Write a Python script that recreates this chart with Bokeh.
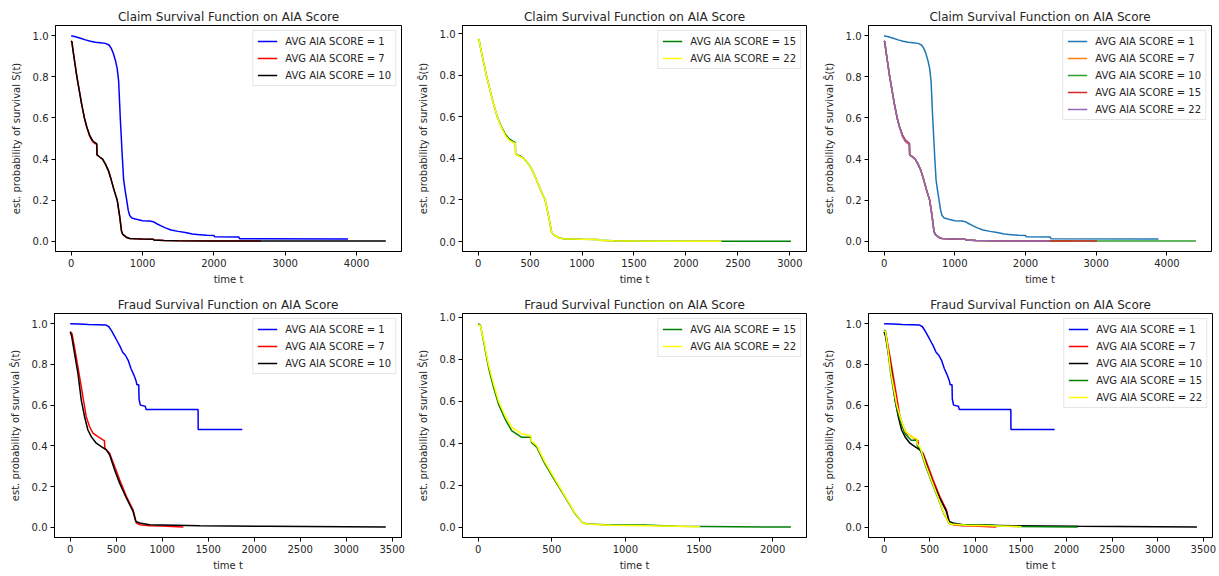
from bokeh.plotting import figure
from bokeh.layouts import row, column
from bokeh.models import Range1d, FixedTicker, PrintfTickFormatter
from bokeh.embed import file_html
from bokeh.resources import INLINE

# ---------------- data ----------------
# Claim survival curves
claim_t_1 = [0, 60, 130, 200, 270, 340, 410, 480, 530, 560, 590, 620, 645, 665, 688, 703, 718, 735, 755, 778,
             800, 820, 850, 900, 1000, 1100, 1150, 1200, 1260, 1320, 1400, 1500, 1600, 1700, 1800, 1900, 2000,
             2010, 2350, 2360, 3880]
claim_s_1 = [1.0, 0.995, 0.988, 0.98, 0.973, 0.968, 0.966, 0.963, 0.955, 0.94, 0.915, 0.88, 0.84, 0.78, 0.60,
             0.50, 0.40, 0.30, 0.25, 0.20, 0.15, 0.125, 0.113, 0.108, 0.10, 0.098, 0.095, 0.085, 0.075, 0.065,
             0.055, 0.048, 0.042, 0.035, 0.032, 0.029, 0.028, 0.022, 0.02, 0.012, 0.011]

claim_t_7 = [0, 10, 25, 50, 80, 110, 145, 185, 220, 260, 300, 340, 358, 362, 400, 440, 480, 520, 560, 600,
             645, 680, 705, 720, 740, 780, 820, 900, 1000, 1150, 1160, 1300, 1500, 2000, 2660]
claim_s_7 = [0.975, 0.97, 0.93, 0.87, 0.80, 0.74, 0.67, 0.60, 0.553, 0.51, 0.485, 0.474, 0.472, 0.42, 0.41,
             0.40, 0.375, 0.345, 0.30, 0.25, 0.20, 0.12, 0.05, 0.035, 0.028, 0.018, 0.013, 0.012, 0.011, 0.01,
             0.006, 0.004, 0.002, 0.001, 0.001]

claim_t_10 = [0, 10, 25, 50, 80, 110, 145, 185, 220, 260, 300, 340, 358, 362, 400, 440, 480, 520, 560, 600,
              645, 680, 705, 720, 740, 780, 820, 900, 1000, 1150, 1160, 1300, 1500, 2000, 2660, 3500, 4410]
claim_s_10 = [0.975, 0.97, 0.93, 0.87, 0.80, 0.74, 0.67, 0.60, 0.555, 0.515, 0.49, 0.478, 0.475, 0.42, 0.41,
              0.40, 0.375, 0.345, 0.30, 0.25, 0.20, 0.12, 0.05, 0.035, 0.028, 0.018, 0.013, 0.012, 0.011, 0.01,
              0.006, 0.004, 0.002, 0.001, 0.001, 0.001, 0.001]

claim_t_15 = [0, 10, 25, 50, 80, 110, 145, 185, 220, 260, 300, 340, 358, 362, 400, 440, 480, 520, 560, 600,
              645, 680, 705, 720, 740, 780, 820, 900, 1000, 1150, 1160, 1300, 1500, 2000, 2340, 3010]
claim_s_15 = [0.975, 0.97, 0.93, 0.87, 0.80, 0.74, 0.67, 0.60, 0.557, 0.518, 0.494, 0.481, 0.477, 0.42, 0.413,
              0.40, 0.376, 0.345, 0.30, 0.25, 0.20, 0.12, 0.05, 0.035, 0.028, 0.018, 0.013, 0.012, 0.011, 0.01,
              0.006, 0.004, 0.002, 0.001, 0.001, 0.001]

claim_t_22 = [0, 10, 25, 50, 80, 110, 145, 185, 220, 260, 300, 340, 358, 362, 400, 440, 480, 520, 560, 600,
              645, 680, 705, 720, 740, 780, 820, 900, 1000, 1150, 1160, 1300, 1500, 2000, 2340]
claim_s_22 = [0.975, 0.97, 0.93, 0.87, 0.80, 0.74, 0.67, 0.60, 0.553, 0.512, 0.487, 0.476, 0.473, 0.42, 0.41,
              0.40, 0.375, 0.345, 0.30, 0.25, 0.20, 0.12, 0.05, 0.035, 0.028, 0.018, 0.013, 0.012, 0.011, 0.01,
              0.006, 0.004, 0.002, 0.001, 0.001]

# Fraud survival curves
fraud_t_1 = [0, 100, 200, 300, 390, 420, 450, 480, 510, 540, 570, 600, 630, 660, 690, 715, 725, 745, 748,
             762, 815, 825, 1390, 1391, 1870]
fraud_s_1 = [1.0, 0.998, 0.996, 0.995, 0.993, 0.985, 0.965, 0.94, 0.915, 0.89, 0.86, 0.845, 0.82, 0.78, 0.75,
             0.72, 0.70, 0.70, 0.63, 0.60, 0.595, 0.578, 0.578, 0.48, 0.48]

fraud_t_7 = [0, 20, 65, 102, 138, 174, 211, 247, 301, 356, 372, 376, 428, 483, 537, 610, 683, 719, 755, 864,
             1000, 1100, 1230]
fraud_s_7 = [0.96, 0.95, 0.837, 0.739, 0.641, 0.543, 0.494, 0.462, 0.445, 0.429, 0.425, 0.39, 0.364, 0.299,
             0.233, 0.152, 0.086, 0.021, 0.013, 0.008, 0.006, 0.004, 0.001]

fraud_t_10 = [0, 15, 47, 84, 120, 156, 192, 229, 283, 338, 392, 428, 483, 537, 610, 683, 712, 755, 864, 1409,
              2135, 3430]
fraud_s_10 = [0.96, 0.94, 0.853, 0.755, 0.625, 0.543, 0.478, 0.445, 0.413, 0.396, 0.38, 0.356, 0.282, 0.217,
              0.144, 0.078, 0.029, 0.021, 0.013, 0.008, 0.005, 0.002]

fraud_t_15 = [0, 16, 38, 72, 106, 139, 184, 229, 297, 360, 362, 398, 454, 521, 589, 656, 712, 746, 903, 1128,
              1353, 2124]
fraud_s_15 = [0.969, 0.961, 0.882, 0.757, 0.663, 0.585, 0.514, 0.459, 0.428, 0.428, 0.404, 0.381, 0.302, 0.224,
              0.146, 0.067, 0.02, 0.016, 0.011, 0.011, 0.005, 0.001]

fraud_t_22 = [0, 16, 38, 72, 106, 139, 184, 229, 297, 360, 362, 398, 454, 521, 589, 656, 712, 746, 903, 1128,
              1353, 1506]
fraud_s_22 = [0.965, 0.958, 0.89, 0.77, 0.68, 0.60, 0.53, 0.475, 0.445, 0.435, 0.41, 0.39, 0.31, 0.23, 0.15,
              0.07, 0.02, 0.015, 0.01, 0.008, 0.005, 0.003]

labels = {1: "AVG AIA SCORE = 1", 7: "AVG AIA SCORE = 7", 10: "AVG AIA SCORE = 10",
          15: "AVG AIA SCORE = 15", 22: "AVG AIA SCORE = 22"}

claim_title = "Claim Survival Function on AIA Score"
fraud_title = "Fraud Survival Function on AIA Score"
x_label = "time t"
y_label_plain = "est. probability of survival S(t)"
y_label_hat = "est. probability of survival Ŝ(t)"
y_ticks = [0.0, 0.2, 0.4, 0.6, 0.8, 1.0]

claim_series = {1: (claim_t_1, claim_s_1), 7: (claim_t_7, claim_s_7), 10: (claim_t_10, claim_s_10),
                15: (claim_t_15, claim_s_15), 22: (claim_t_22, claim_s_22)}
fraud_series = {1: (fraud_t_1, fraud_s_1), 7: (fraud_t_7, fraud_s_7), 10: (fraud_t_10, fraud_s_10),
                15: (fraud_t_15, fraud_s_15), 22: (fraud_t_22, fraud_s_22)}

BASIC = {1: "#0000ff", 7: "#ff0000", 10: "#000000", 15: "#008000", 22: "#ffff00"}
TAB10 = {1: "#1f77b4", 7: "#ff7f0e", 10: "#2ca02c", 15: "#d62728", 22: "#9467bd"}

FONT = "DejaVu Sans"
TXT = "#262626"


def make_panel(title, series, keys, colors, xr, yr, xticks, ylabel, w, h, bl, br, bt, bb):
    p = figure(width=w, height=h, x_range=Range1d(*xr), y_range=Range1d(*yr),
               output_backend="svg", toolbar_location=None, title=title,
               min_border_left=bl, min_border_right=br, min_border_top=bt, min_border_bottom=bb)
    for k in keys:
        t, s = series[k]
        p.line(t, s, line_color=colors[k], line_width=1.5, legend_label=labels[k])
    p.title.text_font = FONT
    p.title.text_font_size = "12px"
    p.title.text_font_style = "normal"
    p.title.text_color = TXT
    p.title.align = "center"
    p.title.standoff = 4
    p.xaxis.ticker = FixedTicker(ticks=xticks)
    p.yaxis.ticker = FixedTicker(ticks=y_ticks)
    p.yaxis.formatter = PrintfTickFormatter(format="%.1f")
    p.xaxis.axis_label = x_label
    p.yaxis.axis_label = ylabel
    for ax in (p.xaxis[0], p.yaxis[0]):
        ax.major_tick_in = 0
        ax.major_tick_out = 4
        ax.minor_tick_in = 0
        ax.minor_tick_out = 0
        ax.major_tick_line_color = "black"
        ax.axis_line_color = "black"
        ax.major_label_text_font = FONT
        ax.major_label_text_font_size = "10px"
        ax.major_label_text_color = TXT
        ax.axis_label_text_font = FONT
        ax.axis_label_text_font_size = "10px"
        ax.axis_label_text_font_style = "normal"
        ax.axis_label_text_color = TXT
        ax.major_label_standoff = 3
    p.xaxis[0].axis_label_standoff = 4
    p.yaxis[0].axis_label_standoff = 8
    p.xgrid.visible = False
    p.ygrid.visible = False
    p.outline_line_color = "black"
    p.outline_line_alpha = 1.0
    p.outline_line_width = 1
    lg = p.legend[0]
    lg.location = "top_right"
    lg.margin = 5
    lg.padding = 4
    lg.spacing = 5
    lg.glyph_width = 20
    lg.glyph_height = 12
    lg.label_height = 12
    lg.label_standoff = 8
    lg.label_text_font = FONT
    lg.label_text_font_size = "10px"
    lg.label_text_color = TXT
    lg.border_line_color = "#cccccc"
    lg.border_line_width = 1
    lg.background_fill_alpha = 0.8
    return p


claim_xr_a = (-220, 4630)
claim_xr_b = (-150, 3160)
fraud_xr_a = (-171, 3601)
fraud_xr_b = (-106, 2230)
claim_ticks_a = [0, 1000, 2000, 3000, 4000]
claim_ticks_b = [0, 500, 1000, 1500, 2000, 2500, 3000]
fraud_ticks_a = [0, 500, 1000, 1500, 2000, 2500, 3000, 3500]
fraud_ticks_b = [0, 500, 1000, 1500, 2000]

p1 = make_panel(claim_title, claim_series, [1, 7, 10], BASIC, claim_xr_a, (-0.05, 1.05), claim_ticks_a,
                y_label_plain, 414, 290, 55, 13, 25, 39)
p2 = make_panel(claim_title, claim_series, [15, 22], BASIC, claim_xr_b, (-0.048, 1.04), claim_ticks_b,
                y_label_hat, 406, 290, 45, 14, 25, 39)
p3 = make_panel(claim_title, claim_series, [1, 7, 10, 15, 22], TAB10, claim_xr_a, (-0.05, 1.05), claim_ticks_a,
                y_label_hat, 399, 290, 46, 8, 25, 39)
p4 = make_panel(fraud_title, fraud_series, [1, 7, 10], BASIC, fraud_xr_a, (-0.05, 1.05), fraud_ticks_a,
                y_label_hat, 414, 286, 54, 13, 23, 39)
p5 = make_panel(fraud_title, fraud_series, [15, 22], BASIC, fraud_xr_b, (-0.0485, 1.0175), fraud_ticks_b,
                y_label_hat, 406, 286, 45, 14, 23, 39)
p6 = make_panel(fraud_title, fraud_series, [1, 7, 10, 15, 22], BASIC, fraud_xr_a, (-0.05, 1.05), fraud_ticks_a,
                y_label_hat, 399, 286, 45, 7, 23, 39)

layout = column(row(p1, p2, p3, spacing=0), row(p4, p5, p6, spacing=0), spacing=0)

open("out.html", "w").write(file_html(layout, INLINE))
